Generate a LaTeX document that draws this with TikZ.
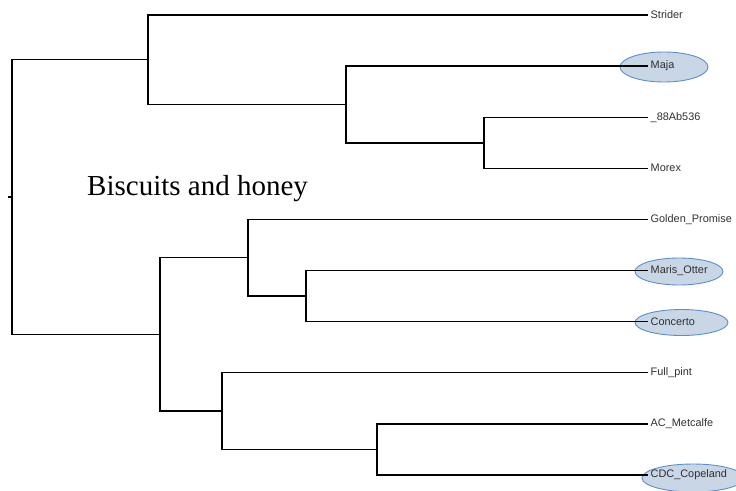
\documentclass[tikz,border=0pt]{standalone}
\usepackage{fontspec}
\usetikzlibrary{shapes.geometric}
\setmainfont{Liberation Sans}
\newfontfamily\titlefont{Liberation Serif}
\definecolor{hlfill}{HTML}{C8D6E6}
\definecolor{hldraw}{HTML}{5B8FCB}
\definecolor{leaftext}{HTML}{303030}
\begin{document}
\begin{tikzpicture}[x=1pt,y=-1pt,
  branch/.style={draw=black,line width=1.4pt},
  leaf/.style={anchor=west,inner xsep=2.5pt,inner ysep=1pt,text=leaftext,font=\fontsize{10.9}{12}\selectfont},
  hl/.style={ellipse,draw=hldraw,fill=hlfill,line width=0.9pt,inner sep=0pt}]
\useasboundingbox (0,0) rectangle (736,490);
\clip (0,0) rectangle (736,490);
% highlight ellipses
\node[hl,minimum width=88pt,minimum height=30pt] (e1) at (664,67) {};
\node[hl,minimum width=88pt,minimum height=27pt] (e2) at (679,271.5) {};
\node[hl,minimum width=93pt,minimum height=26pt] (e3) at (681.5,322.5) {};
\node[hl,minimum width=102pt,minimum height=28pt] (e4) at (693,478) {};
% leaves
\node[leaf] (strider) at (648,15) {Strider};
\node[leaf] (maja) at (648,66.1) {Maja};
\node[leaf] (ab) at (648,117.2) {\_88Ab536};
\node[leaf] (morex) at (648,168.3) {Morex};
\node[leaf] (golden) at (648,219.4) {Golden\_Promise};
\node[leaf] (maris) at (648,270.5) {Maris\_Otter};
\node[leaf] (concerto) at (648,321.6) {Concerto};
\node[leaf] (full) at (648,372.7) {Full\_pint};
\node[leaf] (ac) at (648,423.8) {AC\_Metcalfe};
\node[leaf] (cdc) at (648,474.9) {CDC\_Copeland};
% internal nodes
\coordinate (tick) at (8,197);
\coordinate (root) at (12,197);
\coordinate (n1) at (148,59.7);
\coordinate (n2) at (346,104.4);
\coordinate (n3) at (484,142.8);
\coordinate (n4) at (160,334.4);
\coordinate (n5) at (248,257.7);
\coordinate (n6) at (306,296);
\coordinate (n7) at (222,411);
\coordinate (n8) at (377,449.4);
% branches
\draw[branch] (tick) -- (root);
\draw[branch] (root) |- (n1);
\draw[branch] (root) |- (n4);
\draw[branch] (n1) |- (strider.west);
\draw[branch] (n1) |- (n2);
\draw[branch] (n2) |- (maja.west);
\draw[branch] (n2) |- (n3);
\draw[branch] (n3) |- (ab.west);
\draw[branch] (n3) |- (morex.west);
\draw[branch] (n4) |- (n5);
\draw[branch] (n4) |- (n7);
\draw[branch] (n5) |- (golden.west);
\draw[branch] (n5) |- (n6);
\draw[branch] (n6) |- (maris.west);
\draw[branch] (n6) |- (concerto.west);
\draw[branch] (n7) |- (full.west);
\draw[branch] (n7) |- (n8);
\draw[branch] (n8) |- (ac.west);
\draw[branch] (n8) |- (cdc.west);
% title
\node[anchor=base west,inner sep=0pt,font=\titlefont\fontsize{29}{34}\selectfont] (title) at (87,195) {Biscuits and honey};
\end{tikzpicture}
\end{document}
